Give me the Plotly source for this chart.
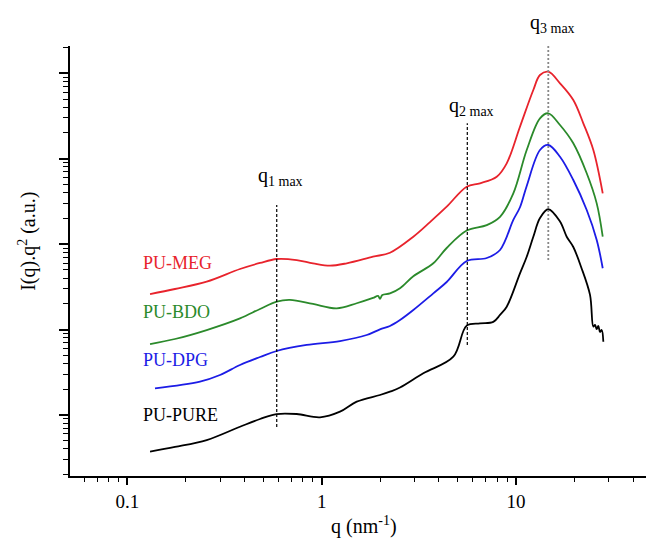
import math
import plotly.graph_objects as go

# ---- data (q in nm^-1, I(q).q^2 in arbitrary units) ----
meg_q = [0.1309, 0.1759, 0.2561, 0.3799, 0.4816, 0.5868, 0.7437, 0.902, 1.103, 1.345, 1.836, 2.245,
         2.96, 3.607, 4.395, 5.571, 6.523, 7.95, 8.948, 10.47, 12.26, 13.27, 14.64, 16.82, 19.69,
         22.17, 24.96, 27.9]
meg_I = [26.0, 29.8, 36.3, 51.1, 60.1, 66.9, 65.1, 59.6, 55.9, 59.6, 71.2, 79.3,
         122, 181, 274, 470, 515, 615, 883, 2369, 6374, 9553, 10440, 7637, 4868,
         2597, 1264, 393]

bdo_q = [0.1309, 0.1759, 0.2561, 0.3799, 0.4816, 0.5868, 0.6868, 0.902, 1.195, 1.514, 1.836, 1.95,
         1.994, 2.05, 2.245, 2.528, 2.96, 3.751, 4.395, 5.571, 7.063, 8.265, 9.674, 11.34, 13.27,
         14.64, 16.82, 19.69, 23.08, 25.98, 27.9]
bdo_I = [6.76, 7.74, 9.86, 13.5, 17.4, 21.2, 22.2, 19.9, 17.7, 20.3, 23.4, 24.7,
         22.8, 25.3, 26.5, 30.5, 42.0, 59.6, 90.0, 144, 167, 209, 393, 1264, 2973,
         3401, 2481, 1515, 675, 300, 122]

dpg_q = [0.1388, 0.2366, 0.2998, 0.3799, 0.4816, 0.5868, 0.8371, 1.242, 1.704, 1.994, 2.245, 2.528,
         2.96, 3.751, 4.395, 5.571, 7.063, 8.265, 9.674, 10.47, 11.34, 13.27, 14.64, 16.82, 19.69,
         23.08, 25.98, 27.9]
dpg_I = [2.05, 2.45, 2.93, 3.84, 4.76, 5.60, 6.59, 7.33, 8.62, 10.05, 11.0, 12.9,
         16.9, 26.5, 36.0, 63.4, 68.7, 85.3, 192, 270, 480, 1264, 1447, 1055, 563,
         251, 112, 52.1]

pure_q = [0.1309, 0.1759, 0.2561, 0.3799, 0.4816, 0.5868, 0.7437, 0.98, 1.242, 1.514, 1.994, 2.245,
          2.528, 3.332, 4.753, 5.571, 6.523, 7.632, 8.265, 8.948, 10.47, 11.34, 12.26, 13.27, 14.64,
          16.82, 18.21, 19.69, 21.6, 24.0, 24.96, 25.47, 25.98, 26.48, 27.02, 27.57, 28.1]
pure_I = [0.371, 0.421, 0.508, 0.727, 0.895, 1.024, 1.024, 0.937, 1.09, 1.43, 1.71, 1.87,
          2.09, 3.07, 4.80, 11.1, 11.8, 12.3, 14.8, 18.5, 45.5, 71.2, 122, 202, 256,
          184, 122, 92.5, 54.0, 25.4, 10.8, 11.3, 10.1, 11.0, 9.35, 9.86, 7.2]

series_names = ["PU-MEG", "PU-BDO", "PU-DPG", "PU-PURE"]
series_colors = ["#e8232c", "#2b8a2b", "#1c1ce6", "#000000"]

# characteristic peak positions and the extent of their marker lines
qmax_q = [0.587, 5.61, 14.64]
qmax_Ilow = [0.722, 6.58, 65.1]
qmax_Ihigh = [287, 2597, 25900]
qmax_labels = ["q<sub>1 max</sub>", "q<sub>2 max</sub>", "q<sub>3 max</sub>"]
qmax_label_I = [620, 4100, 38800]
qmax_colors = ["#000000", "#000000", "#888888"]

label_q = 0.117
label_I = [60.1, 16.2, 4.40, 1.0]

FONT = "Liberation Serif"
X_RANGE = [-1.2948, 1.6682]
Y_RANGE = [-0.7155, 4.3197]


def y_paper(v):
    return (math.log10(v) - Y_RANGE[0]) / (Y_RANGE[1] - Y_RANGE[0])


fig = go.Figure()
for qs, Is, c in zip([meg_q, bdo_q, dpg_q, pure_q], [meg_I, bdo_I, dpg_I, pure_I], series_colors):
    fig.add_trace(go.Scatter(x=qs, y=Is, mode="lines", line=dict(color=c, width=1.8),
                             line_shape="spline", showlegend=False, hoverinfo="skip"))

for i, q in enumerate(qmax_q):
    fig.add_trace(go.Scatter(x=[q, q], y=[qmax_Ilow[i], qmax_Ihigh[i]], mode="lines",
                             line=dict(color=qmax_colors[i], width=1.2 if i < 2 else 1.8,
                                       dash="3px,2px" if i < 2 else "2px,2px"),
                             showlegend=False, hoverinfo="skip"))
    fig.add_annotation(x=math.log10(q), y=y_paper(qmax_label_I[i]), xref="x", yref="paper",
                       text=qmax_labels[i], showarrow=False, xanchor="center", yanchor="middle",
                       xshift=4, font=dict(family=FONT, size=20, color="black"))

for name, c, yI in zip(series_names, series_colors, label_I):
    fig.add_annotation(x=math.log10(label_q), y=math.log10(yI), xref="x", yref="y",
                       text=name, showarrow=False, xanchor="left", yanchor="middle",
                       font=dict(family=FONT, size=18, color=c))

# axis titles
fig.add_annotation(x=-0.075, y=0.5465, xref="paper", yref="paper", text="I(q).q<sup>2</sup> (a.u.)",
                   textangle=-90, showarrow=False, xanchor="center", yanchor="middle",
                   font=dict(family=FONT, size=20, color="black"))
fig.add_annotation(x=0.511, y=-0.114, xref="paper", yref="paper", text="q (nm<sup>-1</sup>)",
                   showarrow=False, xanchor="center", yanchor="middle",
                   font=dict(family=FONT, size=20, color="black"))

fig.update_layout(
    width=646, height=538,
    margin=dict(l=70, r=0, t=46, b=62),
    paper_bgcolor="white", plot_bgcolor="white",
    showlegend=False,
    font=dict(family=FONT, size=19, color="black"),
)
fig.update_xaxes(type="log", range=X_RANGE, dtick=1, showgrid=False, zeroline=False,
                 showline=True, linecolor="black", linewidth=1.6, ticks="outside", ticklen=7,
                 tickwidth=1.5, tickcolor="black", tickfont=dict(family=FONT, size=19, color="black"),
                 minor=dict(ticks="outside", ticklen=4, tickwidth=1.3, tickcolor="black",
                            dtick="D1", showgrid=False))
fig.update_yaxes(type="log", range=Y_RANGE, dtick=1, showgrid=False, zeroline=False,
                 showline=True, linecolor="black", linewidth=1.6, ticks="outside", ticklen=9,
                 tickwidth=1.5, tickcolor="black", showticklabels=False,
                 minor=dict(ticks="outside", ticklen=5, tickwidth=1.3, tickcolor="black",
                            dtick="D1", showgrid=False))

fig.write_html("out.html")
